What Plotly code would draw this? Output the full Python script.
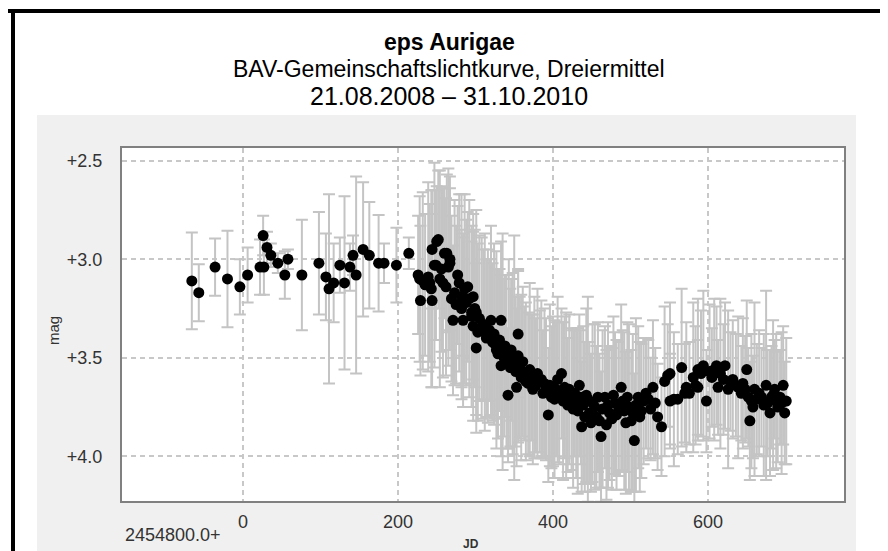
import plotly.graph_objects as go

# ---- data (JD - 2454800, magnitude, error) ----
jd = [-66, -57, -36, -20, -4, 6, 22, 26, 27, 31, 36, 45, 54, 58, 76, 98, 107, 111, 117, 125,
      131, 138, 142, 146, 155, 163, 175, 182, 198, 214,
      226, 228, 229, 232, 235, 239, 241, 243, 244, 244, 247, 249, 250, 252, 254, 256, 258, 260,
      262, 263, 265, 267, 267, 269, 271, 273, 275, 277, 279, 282, 282, 284, 284, 286, 288, 290,
      292, 295, 295, 297, 297, 299, 301, 301, 303,
      305, 308, 310, 312, 314, 316, 318, 320, 322, 324, 325, 327, 329, 331, 333, 333, 335, 337,
      338, 340, 342, 343, 345, 346, 348, 350, 352, 353, 355, 355, 357, 359, 361, 363, 365, 368,
      370, 372, 374, 376, 378, 380, 383, 385, 387, 389, 391, 394, 396, 398, 400,
      402, 404, 406, 408, 411, 413, 415, 417, 419, 421, 424, 426, 428, 430, 432, 434, 436, 437,
      439, 441, 443, 445, 447, 449, 451, 454, 456, 458, 460, 462, 464, 467, 469, 471, 473, 476,
      478, 480, 482, 485, 488, 490, 492, 494, 496, 498, 501, 503, 505, 507, 510, 512, 514, 517,
      520, 523, 526, 529, 532, 535, 540,
      544, 548, 551, 551, 556, 561, 566, 570, 572, 576, 581, 584, 587, 587, 591, 594, 598, 602,
      605, 608, 611, 613, 616, 620, 622, 626, 629, 632, 636, 639, 643, 645, 648, 650, 652, 654,
      656, 658, 660, 663, 666, 669, 672, 675, 677, 680, 682, 684, 686, 688, 690, 693, 695, 697,
      699, 701]

mag = [3.11, 3.17, 3.04, 3.10, 3.14, 3.08, 3.04, 2.88, 3.04, 2.94, 2.98, 3.02, 3.08, 3.00, 3.08,
       3.02, 3.09, 3.15, 3.12, 3.03, 3.12, 3.04, 2.98, 3.08, 2.95, 2.98, 3.02, 3.02, 3.03, 2.97,
       3.08, 3.10, 3.21, 3.11, 3.13, 3.09, 3.12, 3.15, 3.21, 2.95, 3.03, 3.03, 2.91, 2.90, 3.10,
       3.05, 3.12, 2.97, 3.14, 2.97, 3.04, 3.00, 3.02, 3.20, 3.31, 3.17, 3.23, 3.08, 3.12, 3.19,
       3.25, 3.31, 3.19, 3.15, 3.22, 3.14, 3.20, 3.29, 3.27, 3.19, 3.34, 3.25, 3.27, 3.45, 3.37,
       3.30, 3.35, 3.33, 3.37, 3.40, 3.39, 3.36, 3.31, 3.42, 3.38, 3.43, 3.46, 3.48, 3.41, 3.31,
       3.54, 3.47, 3.50, 3.44, 3.52, 3.69, 3.48, 3.55, 3.46, 3.53, 3.50, 3.57, 3.65, 3.38, 3.49,
       3.55, 3.60, 3.52, 3.58, 3.62, 3.63, 3.56, 3.60, 3.66, 3.60, 3.64, 3.58, 3.62, 3.61, 3.68,
       3.63, 3.66, 3.79, 3.64, 3.70, 3.67,
       3.71, 3.66, 3.61, 3.68, 3.58, 3.72, 3.65, 3.69, 3.74, 3.66, 3.71, 3.76, 3.68, 3.73, 3.77,
       3.64, 3.70, 3.85, 3.74, 3.80, 3.69, 3.71, 3.78, 3.83, 3.73, 3.75, 3.80, 3.70, 3.82, 3.90,
       3.76, 3.70, 3.84, 3.74, 3.78, 3.81, 3.69, 3.73, 3.79, 3.76, 3.65, 3.72, 3.77, 3.83, 3.70,
       3.75, 3.82, 3.78, 3.92, 3.74, 3.70, 3.80, 3.77, 3.72, 3.68, 3.71, 3.76, 3.65, 3.73, 3.80,
       3.85,
       3.62, 3.59, 3.58, 3.72, 3.71, 3.71, 3.55, 3.68, 3.65, 3.68, 3.60, 3.64, 3.56, 3.65, 3.58,
       3.54, 3.72, 3.57, 3.60, 3.56, 3.54, 3.65, 3.58, 3.61, 3.54, 3.66, 3.62, 3.61, 3.64, 3.65,
       3.68, 3.63, 3.66, 3.56, 3.70, 3.82, 3.72, 3.75, 3.66, 3.71, 3.68, 3.70, 3.74, 3.64, 3.73,
       3.78, 3.70, 3.69, 3.66, 3.72, 3.75, 3.70, 3.73, 3.64, 3.78, 3.72]

err = [0.245, 0.145, 0.145, 0.245, 0.14, 0.14, 0.14, 0.10, 0.14, 0.08, 0.06, 0.05, 0.12, 0.05, 0.28,
       0.26, 0.22, 0.48, 0.20, 0.14, 0.44, 0.12, 0.10, 0.50, 0.34, 0.27, 0.245, 0.10, 0.19, 0.08,
       0.30, 0.42, 0.38, 0.45, 0.36, 0.48, 0.40, 0.50, 0.44, 0.30, 0.52, 0.38, 0.28, 0.35, 0.55,
       0.42, 0.48, 0.33, 0.45, 0.40, 0.50, 0.36, 0.44, 0.42, 0.38, 0.47, 0.40, 0.35, 0.45, 0.52,
       0.40, 0.44, 0.30, 0.48, 0.42, 0.38, 0.50, 0.46, 0.36, 0.42, 0.48, 0.40, 0.52, 0.43, 0.45,
       0.42, 0.46, 0.38, 0.50, 0.40, 0.44, 0.36, 0.48, 0.40, 0.46, 0.38, 0.50, 0.43, 0.36, 0.40,
       0.46, 0.60, 0.40, 0.36, 0.44, 0.34, 0.48, 0.40, 0.36, 0.46, 0.62, 0.38, 0.40, 0.32, 0.44,
       0.36, 0.42, 0.38, 0.34, 0.40, 0.36, 0.44, 0.32, 0.38, 0.41, 0.34, 0.43, 0.36, 0.40, 0.32,
       0.38, 0.36, 0.34, 0.41, 0.36, 0.38,
       0.40, 0.34, 0.42, 0.36, 0.33, 0.40, 0.36, 0.42, 0.34, 0.38, 0.36, 0.40, 0.32, 0.38, 0.42,
       0.36, 0.34, 0.33, 0.40, 0.38, 0.44, 0.52, 0.36, 0.35, 0.40, 0.42, 0.36, 0.38, 0.34, 0.33,
       0.40, 0.36, 0.38, 0.42, 0.34, 0.36, 0.40, 0.36, 0.38, 0.34, 0.42, 0.36, 0.40, 0.36, 0.38,
       0.42, 0.36, 0.40, 0.34, 0.44, 0.36, 0.38, 0.34, 0.32, 0.28, 0.30, 0.26, 0.34, 0.28, 0.27,
       0.25,
       0.38, 0.26, 0.36, 0.24, 0.34, 0.28, 0.40, 0.25, 0.33, 0.26, 0.38, 0.30, 0.36, 0.24, 0.32,
       0.38, 0.26, 0.34, 0.25, 0.36, 0.30, 0.24, 0.38, 0.28, 0.32, 0.40, 0.25, 0.30, 0.26, 0.36,
       0.24, 0.33, 0.27, 0.35, 0.25, 0.30, 0.34, 0.26, 0.44, 0.28, 0.32, 0.25, 0.36, 0.48, 0.27,
       0.32, 0.26, 0.38, 0.25, 0.34, 0.28, 0.24, 0.36, 0.30, 0.26, 0.32]

x_ticks = [0, 200, 400, 600]
y_ticks = [2.5, 3.0, 3.5, 4.0]
y_tick_text = ["+2.5", "+3.0", "+3.5", "+4.0"]
title_lines = ["eps Aurigae", "BAV-Gemeinschaftslichtkurve, Dreiermittel", "21.08.2008 \u2013 31.10.2010"]
x_label = "JD"
y_label = "mag"
jd_offset_label = "2454800.0+"

FONT = "Liberation Sans, Arial, sans-serif"
W, H = 888, 551
L, R, T, B = 114, 52, 140, 58
PW, PH = W - L - R, H - T - B


def px_x(px):
    return (px - L) / PW


def px_y(py):
    return (H - B - py) / PH


fig = go.Figure()
fig.add_trace(go.Scatter(
    x=jd, y=mag, mode="markers",
    marker=dict(size=11, color="rgba(0,0,0,0)"),
    error_y=dict(type="data", array=err, color="#c4c4c4", thickness=2, width=6),
    hoverinfo="skip", showlegend=False))
fig.add_trace(go.Scatter(
    x=jd, y=mag, mode="markers",
    marker=dict(size=11, color="black", line=dict(width=0)),
    showlegend=False))

axis_common = dict(
    showgrid=True, gridcolor="#c8c8c8", griddash="5px,4px", gridwidth=1.5,
    zeroline=False, showline=True, mirror=True, linecolor="#808080", linewidth=2,
    ticks="", tickfont=dict(family=FONT, size=18, color="#333333"))

fig.update_xaxes(range=[-156.1, 775.5], tickvals=x_ticks, ticklabelstandoff=3, **axis_common)
fig.update_yaxes(range=[4.2268, 2.4356], tickvals=y_ticks, ticktext=y_tick_text,
                 ticklabelstandoff=14, **axis_common)

shapes = [
    dict(type="rect", xref="paper", yref="paper", x0=px_x(29), x1=px_x(848), y0=px_y(545), y1=px_y(107),
         fillcolor="#f0f0f0", line=dict(width=0), layer="below"),
    dict(type="rect", xref="paper", yref="paper", x0=0, x1=1, y0=0, y1=1,
         fillcolor="white", line=dict(width=0), layer="below"),
    dict(type="line", xref="paper", yref="paper", x0=px_x(0), x1=px_x(888), y0=px_y(3), y1=px_y(3),
         line=dict(color="black", width=4)),
    dict(type="line", xref="paper", yref="paper", x0=px_x(5), x1=px_x(5), y0=px_y(1), y1=px_y(551),
         line=dict(color="black", width=4)),
]

annotations = [
    dict(text="<b>" + title_lines[0] + "</b>", x=px_x(441), y=px_y(34), font=dict(family=FONT, size=23, color="black")),
    dict(text=title_lines[1], x=px_x(441), y=px_y(61), font=dict(family=FONT, size=23, color="black")),
    dict(text=title_lines[2], x=px_x(441), y=px_y(88), font=dict(family=FONT, size=25, color="black")),
    dict(text=y_label, x=px_x(45), y=px_y(323), textangle=-90, font=dict(family=FONT, size=15, color="#333333")),
    dict(text=jd_offset_label, x=px_x(115), y=px_y(527), xanchor="left", font=dict(family=FONT, size=18, color="#333333")),
    dict(text="<b>" + x_label + "</b>", x=px_x(463), y=px_y(536), font=dict(family=FONT, size=12, color="#333333")),
]
for a in annotations:
    a.setdefault("xanchor", "center")
    a.update(xref="paper", yref="paper", yanchor="middle", showarrow=False)

fig.update_layout(
    width=W, height=H,
    margin=dict(l=L, r=R, t=T, b=B, autoexpand=False),
    paper_bgcolor="white", plot_bgcolor="white",
    shapes=shapes, annotations=annotations,
    showlegend=False,
    font=dict(family=FONT),
)

fig.write_html("out.html")
